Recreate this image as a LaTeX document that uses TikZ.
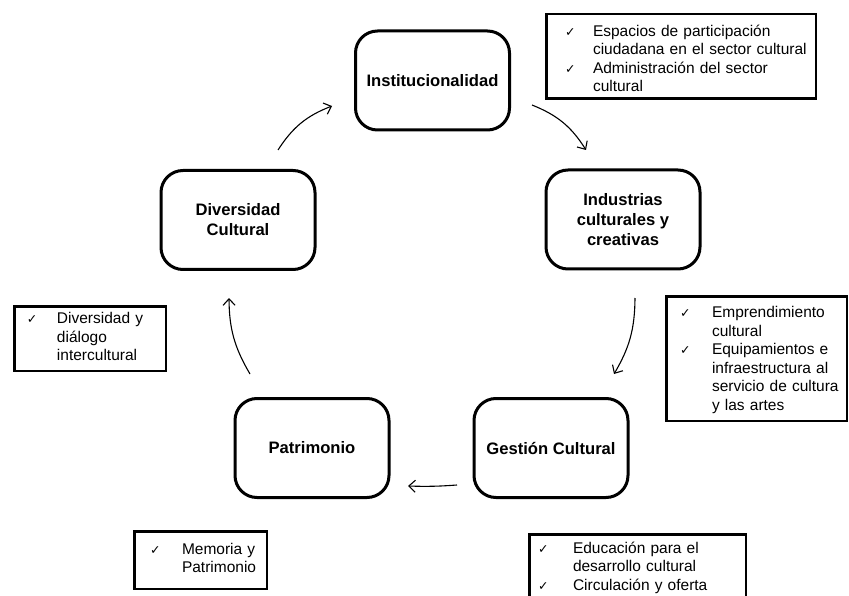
\documentclass[tikz,border=0pt]{standalone}
\usepackage{fontspec}
\setmainfont{Liberation Sans}
\newfontfamily\chkfont{DejaVu Sans}
\usetikzlibrary{arrows.meta}
\newcommand\chk[1][30]{\makebox[#1pt][l]{\fontsize{12.5}{12.5}\chkfont ✓}}

\begin{document}
\begin{tikzpicture}[x=1pt,y=-1pt,
  stage/.style={draw,line width=3pt,rounded corners=22pt,minimum width=154pt,minimum height=99pt,align=center,font=\fontsize{16.6}{20}\selectfont\bfseries},
  notes/.style={draw,line width=2.5pt,align=left,inner ysep=0pt,font=\fontsize{15.5}{18.5}\selectfont},
  cyc/.style={line width=1.1pt,-{Straight Barb[length=6.5pt,width=12pt]}}]
\clip (0,0) rectangle (849,596);
\node[stage] (inst) at (432.5,80.5) {Institucionalidad};
\node[stage] (ind) at (623,219.5) {Industrias\\culturales y\\creativas};
\node[stage] (div) at (238,220) {Diversidad\\Cultural};
\node[stage] (pat) at (312,448) {Patrimonio};
\node[stage] (ges) at (551,448) {Gestión Cultural};
\node[notes,inner xsep=18.75pt,text width=232pt,minimum height=84.5pt] (instnotes) at (681,56.5)
  {\begin{tabular}{@{}l@{}l@{}}\chk[28] & \rule{0pt}{21pt}Espacios de participación\\ & ciudadana en el sector cultural\\ \chk[28] & Administración del sector\\ & cultural\end{tabular}};
\node[notes,inner xsep=13.75pt,text width=153pt,minimum height=124.5pt] (indnotes) at (756.5,358.5)
  {\begin{tabular}{@{}l@{}l@{}}\chk[32] & \rule{0pt}{16.5pt}Emprendimiento\\ & cultural\\ \chk[32] & Equipamientos e\\ & infraestructura al\\ & servicio de cultura\\ & y las artes\end{tabular}};
\node[notes,inner xsep=12.75pt,text width=126pt,minimum height=64.5pt] (divnotes) at (90,338.5)
  {\begin{tabular}{@{}l@{}l@{}}\chk & Diversidad y\\ & diálogo\\ & intercultural\end{tabular}};
\node[notes,inner xsep=15.75pt,text width=101pt,minimum height=57.5pt] (patnotes) at (200.5,560)
  {\begin{tabular}{@{}l@{}l@{}}\chk[32] & Memoria y\\ & Patrimonio\end{tabular}};
\node[notes,inner xsep=8.75pt,text width=199pt,minimum height=67.5pt] (gesnotes) at (637.5,568)
  {\begin{tabular}{@{}l@{}l@{}}\chk[35] & Educación para el\\ & desarrollo cultural\\ \chk[35] & Circulación y oferta\end{tabular}};
\coordinate (div-out) at (278,150);
\coordinate (inst-in) at (332,106);
\coordinate (inst-out) at (532,105);
\coordinate (ind-in) at (586,150);
\coordinate (ind-out) at (635,298);
\coordinate (ges-in) at (614,374);
\coordinate (ges-out) at (457,485);
\coordinate (pat-in) at (408,486);
\coordinate (pat-out) at (250,374);
\coordinate (div-in) at (229,298);
\draw[cyc] (div-out) to[bend left=18] (inst-in);
\draw[cyc] (inst-out) to[bend left=18] (ind-in);
\draw[cyc] (ind-out) to[bend left=15] (ges-in);
\draw[cyc] (ges-out) to[bend left=3] (pat-in);
\draw[cyc] (pat-out) to[bend left=15] (div-in);
\end{tikzpicture}
\end{document}
